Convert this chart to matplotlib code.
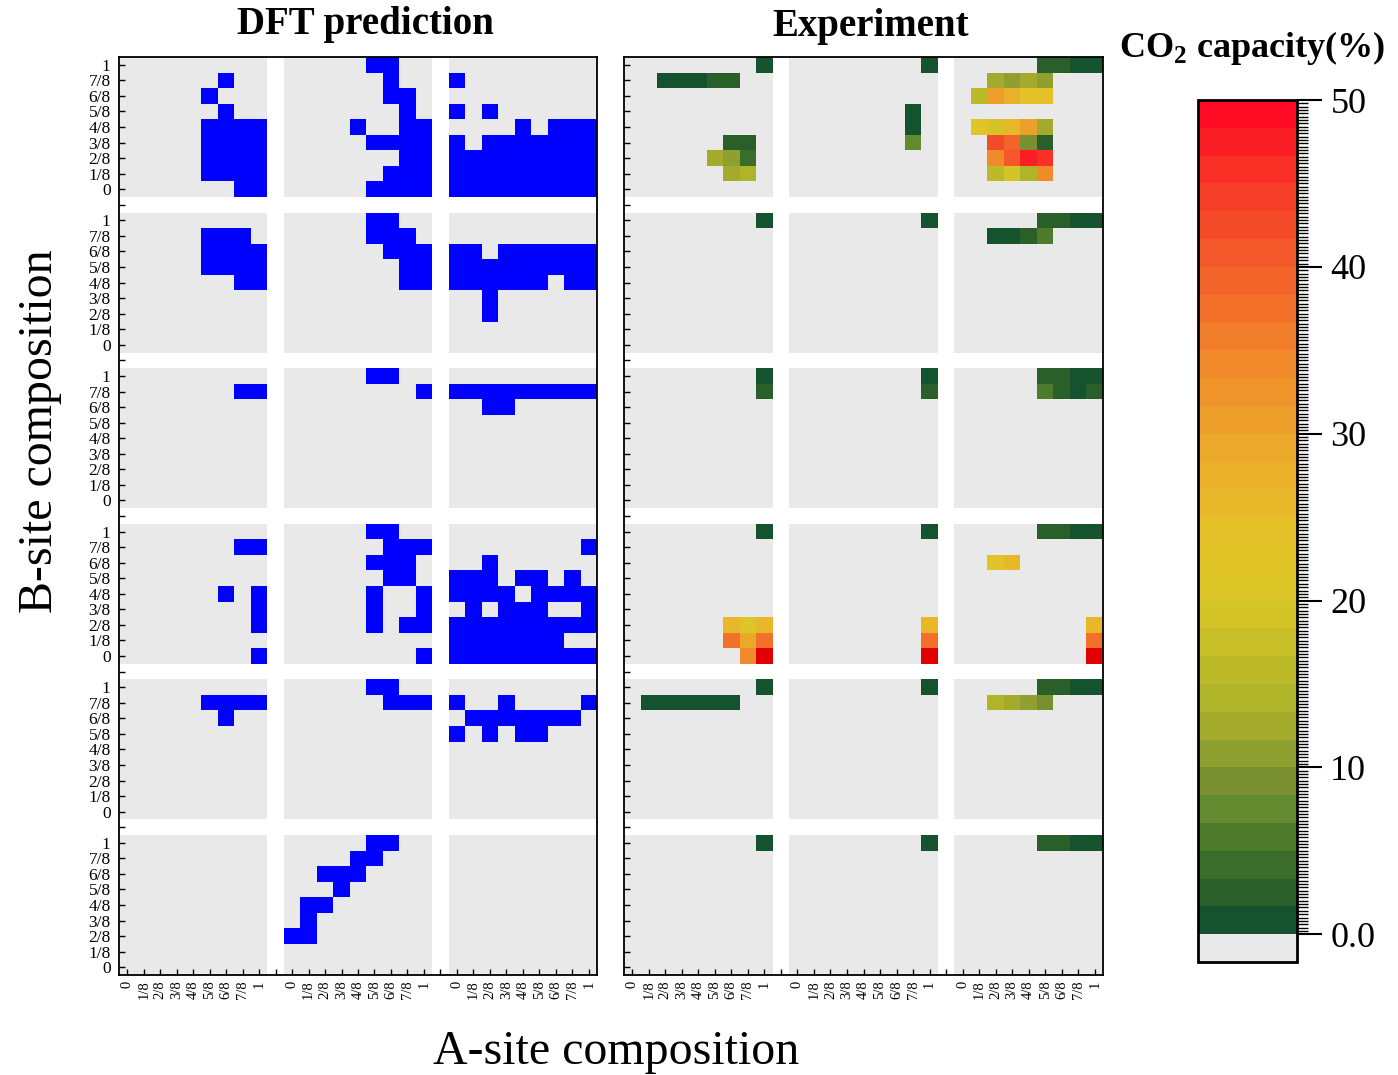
import numpy as np
import matplotlib
matplotlib.use('agg')
import matplotlib.pyplot as plt
from matplotlib.colors import ListedColormap, BoundaryNorm
from matplotlib.cm import ScalarMappable
from matplotlib.ticker import MultipleLocator

plt.rcParams['font.family'] = ['Liberation Serif', 'DejaVu Serif']
plt.rcParams['mathtext.fontset'] = 'custom'
plt.rcParams['mathtext.rm'] = 'Liberation Serif'
plt.rcParams['mathtext.bf'] = 'Liberation Serif:bold'

fracs = ['0', '1/8', '2/8', '3/8', '4/8', '5/8', '6/8', '7/8', '1']

# DFT stable compositions: '#' = predicted stable. Each block lists B = 1 (top) down to B = 0,
# characters run A = 0 .. 1 from left to right.
dft_row1 = [
    [".........", "......#..", ".....#...", "......#..", ".....####", ".....####", ".....####", ".....####", ".......##"],
    [".....##..", "......#..", "......##.", ".......#.", "....#..##", ".....####", ".......##", "......###", ".....####"],
    [".........", "#........", ".........", "#.#......", "....#.###", "#.#######", "#########", "#########", "#########"],
]
dft_row2 = [
    [".........", ".....###.", ".....####", ".....####", ".......##", ".........", ".........", ".........", "........."],
    [".....##..", ".....###.", "......###", ".......##", ".......##", ".........", ".........", ".........", "........."],
    [".........", ".........", "##.######", "#########", "######.##", "..#......", "..#......", ".........", "........."],
]
dft_row3 = [
    [".........", ".......##", ".........", ".........", ".........", ".........", ".........", ".........", "........."],
    [".....##..", "........#", ".........", ".........", ".........", ".........", ".........", ".........", "........."],
    [".........", "#########", "..##.....", ".........", ".........", ".........", ".........", ".........", "........."],
]
dft_row4 = [
    [".........", ".......##", ".........", ".........", "......#.#", "........#", "........#", ".........", "........#"],
    [".....##..", "......###", ".....###.", "......##.", ".....#..#", ".....#..#", ".....#.##", ".........", "........#"],
    [".........", "........#", "..#......", "###.##.#.", "####.####", ".#.###..#", "#########", "#######..", "#########"],
]
dft_row5 = [
    [".........", ".....####", "......#..", ".........", ".........", ".........", ".........", ".........", "........."],
    [".....##..", "......###", ".........", ".........", ".........", ".........", ".........", ".........", "........."],
    [".........", "#..#....#", ".#######.", "#.#.##...", ".........", ".........", ".........", ".........", "........."],
]
dft_row6 = [
    [".........", ".........", ".........", ".........", ".........", ".........", ".........", ".........", "........."],
    [".....##..", "....##...", "..###....", "...#.....", ".##......", ".#.......", "##.......", ".........", "........."],
    [".........", ".........", ".........", ".........", ".........", ".........", ".........", ".........", "........."],
]
dft_rows = [dft_row1, dft_row2, dft_row3, dft_row4, dft_row5, dft_row6]

# measured CO2 capacity (%): (block column, A index, B index, capacity)
exp_row1 = [(0, 8, 8, 0.8), (0, 2, 7, 0.8), (0, 3, 7, 0.8), (0, 4, 7, 0.8), (0, 5, 7, 2.5), (0, 6, 7, 2.5),
            (0, 6, 3, 2.5), (0, 7, 3, 2.5), (0, 5, 2, 12.5), (0, 6, 2, 10.8), (0, 7, 2, 4.2),
            (0, 6, 1, 12.5), (0, 7, 1, 14.2),
            (1, 8, 8, 0.8), (1, 7, 5, 0.8), (1, 7, 4, 0.8), (1, 7, 3, 7.5),
            (2, 5, 8, 2.5), (2, 6, 8, 2.5), (2, 7, 8, 0.8), (2, 8, 8, 0.8),
            (2, 2, 7, 12.5), (2, 3, 7, 10.8), (2, 4, 7, 12.5), (2, 5, 7, 10.8),
            (2, 1, 6, 16.0), (2, 2, 6, 30.8), (2, 3, 6, 27.5), (2, 4, 6, 24.0), (2, 5, 6, 24.0),
            (2, 1, 4, 22.5), (2, 2, 4, 19.0), (2, 3, 4, 25.0), (2, 4, 4, 30.8), (2, 5, 4, 12.5),
            (2, 2, 3, 42.5), (2, 3, 3, 39.0), (2, 4, 3, 9.0), (2, 5, 3, 2.5),
            (2, 2, 2, 34.0), (2, 3, 2, 41.0), (2, 4, 2, 47.5), (2, 5, 2, 45.8),
            (2, 2, 1, 16.0), (2, 3, 1, 19.0), (2, 4, 1, 14.2), (2, 5, 1, 34.0)]
exp_row2 = [(0, 8, 8, 0.8), (1, 8, 8, 0.8),
            (2, 5, 8, 2.5), (2, 6, 8, 2.5), (2, 7, 8, 0.8), (2, 8, 8, 0.8),
            (2, 2, 7, 0.8), (2, 3, 7, 0.8), (2, 4, 7, 2.5), (2, 5, 7, 5.8)]
exp_row3 = [(0, 8, 8, 0.8), (0, 8, 7, 2.5), (1, 8, 8, 0.8), (1, 8, 7, 2.5),
            (2, 5, 8, 2.5), (2, 6, 8, 2.5), (2, 7, 8, 0.8), (2, 8, 8, 0.8),
            (2, 5, 7, 5.8), (2, 6, 7, 2.5), (2, 7, 7, 0.8), (2, 8, 7, 2.5)]
exp_row4 = [(0, 8, 8, 0.8), (0, 6, 2, 25.8), (0, 7, 2, 20.8), (0, 8, 2, 25.8),
            (0, 6, 1, 37.5), (0, 7, 1, 29.0), (0, 8, 1, 37.5), (0, 7, 0, 34.5), (0, 8, 0, 52.0),
            (1, 8, 8, 0.8), (1, 8, 2, 25.8), (1, 8, 1, 37.5), (1, 8, 0, 52.0),
            (2, 5, 8, 2.5), (2, 6, 8, 2.5), (2, 7, 8, 0.8), (2, 8, 8, 0.8),
            (2, 2, 6, 22.5), (2, 3, 6, 25.8), (2, 8, 2, 25.8), (2, 8, 1, 37.5), (2, 8, 0, 52.0)]
exp_row5 = [(0, 8, 8, 0.8), (0, 1, 7, 0.8), (0, 2, 7, 0.8), (0, 3, 7, 0.8), (0, 4, 7, 0.8),
            (0, 5, 7, 0.8), (0, 6, 7, 0.8), (1, 8, 8, 0.8),
            (2, 5, 8, 2.5), (2, 6, 8, 2.5), (2, 7, 8, 0.8), (2, 8, 8, 0.8),
            (2, 2, 7, 14.2), (2, 3, 7, 12.5), (2, 4, 7, 10.8), (2, 5, 7, 9.0)]
exp_row6 = [(0, 8, 8, 0.8), (1, 8, 8, 0.8),
            (2, 5, 8, 2.5), (2, 6, 8, 2.5), (2, 7, 8, 0.8), (2, 8, 8, 0.8)]
exp_rows = [exp_row1, exp_row2, exp_row3, exp_row4, exp_row5, exp_row6]

cap_levels = np.linspace(0, 50, 31)
cap_ticks = [0, 10, 20, 30, 40, 50]
cap_ticklabels = ['0.0', '10', '20', '30', '40', '50']

band_colors = ['#14532d', '#2a5f2a', '#3a6c2c', '#4e7a2c', '#648a30', '#7a9030', '#90a030', '#a4aa2c',
               '#b0b428', '#bcba28', '#c8be28', '#d4c428', '#dcc628', '#e2c428', '#e6c22a', '#e8b82a',
               '#eab02a', '#eca82a', '#ee9e2a', '#ef942a', '#f08a2a', '#f17c2a', '#f2702a', '#f3642a',
               '#f4582a', '#f54a28', '#f63e28', '#f83026', '#fb1e24', '#ff0a22']
bg = '#e9e9e9'
cap_cmap = ListedColormap(band_colors)
cap_cmap.set_under(bg)
cap_cmap.set_over('#e00000')
cap_norm = BoundaryNorm(cap_levels, cap_cmap.N)
dft_cmap = ListedColormap([bg, '#0000ff'])

fig = plt.figure(figsize=(13.98, 10.75), dpi=100)
ax_dft = fig.add_axes([119/1398, 100/1075, 478/1398, 918/1075])
ax_exp = fig.add_axes([624/1398, 100/1075, 479/1398, 918/1075])

xx = np.arange(10)
for r in range(6):
    y0 = (5 - r) * 10
    for c in range(3):
        x0 = c * 10
        grid = np.array([[1 if ch == '#' else 0 for ch in line] for line in dft_rows[r][c][::-1]])
        ax_dft.pcolormesh(x0 + xx, y0 + xx, grid, cmap=dft_cmap, vmin=0, vmax=1)
        vals = np.full((9, 9), -1.0)
        for bc, a, b, v in exp_rows[r]:
            if bc == c:
                vals[b, a] = v
        ax_exp.pcolormesh(x0 + xx, y0 + xx, vals, cmap=cap_cmap, norm=cap_norm)

xlabels = [fracs[i % 10] if i % 10 < 9 else '' for i in range(29)]
ylabels = [fracs[j % 10] if j % 10 < 9 else '' for j in range(59)]
for ax in (ax_dft, ax_exp):
    ax.set_xlim(0, 29)
    ax.set_ylim(0, 59)
    ax.set_facecolor('white')
    ax.set_xticks(np.arange(29) + 0.5)
    ax.set_xticklabels(xlabels, rotation=90, fontsize=10.5)
    ax.set_yticks(np.arange(59) + 0.5)
    ax.tick_params(direction='in', length=4, width=1)
    ax.tick_params(axis='y', pad=6)
    ax.tick_params(axis='x', pad=4)
    for s in ax.spines.values():
        s.set_linewidth(1.3)
ax_dft.set_yticklabels(ylabels, fontsize=12.5)
ax_exp.set_yticklabels([])

fig.text(365/1398, 1 - 34/1075, 'DFT prediction', ha='center', va='baseline', fontsize=28, fontweight='bold')
fig.text(871/1398, 1 - 36/1075, 'Experiment', ha='center', va='baseline', fontsize=28, fontweight='bold')
fig.text(40/1398, 1 - 431/1075, 'B-site composition', ha='center', va='center', rotation=90, fontsize=34.5)
fig.text(616/1398, 1 - 1052/1075, 'A-site composition', ha='center', va='center', fontsize=34.5)
fig.text(1252/1398, 1 - 48/1075, r'CO$_\mathbf{2}$ capacity(%)', ha='center', va='center',
         fontsize=26, fontweight='bold')

cax = fig.add_axes([1198/1398, 113/1075, 99/1398, 862/1075])
sm = ScalarMappable(norm=cap_norm, cmap=cap_cmap)
cb = fig.colorbar(sm, cax=cax, extend='min', extendrect=True, extendfrac=1/30, ticks=cap_ticks)
cb.set_ticklabels(cap_ticklabels)
cb.outline.set_linewidth(2)
cax.yaxis.set_minor_locator(MultipleLocator(0.2))
cax.tick_params(which='major', length=18, width=1.5, labelsize=26, pad=6)
cax.tick_params(which='minor', length=8, width=1)

fig.savefig('out.png', dpi=100)
